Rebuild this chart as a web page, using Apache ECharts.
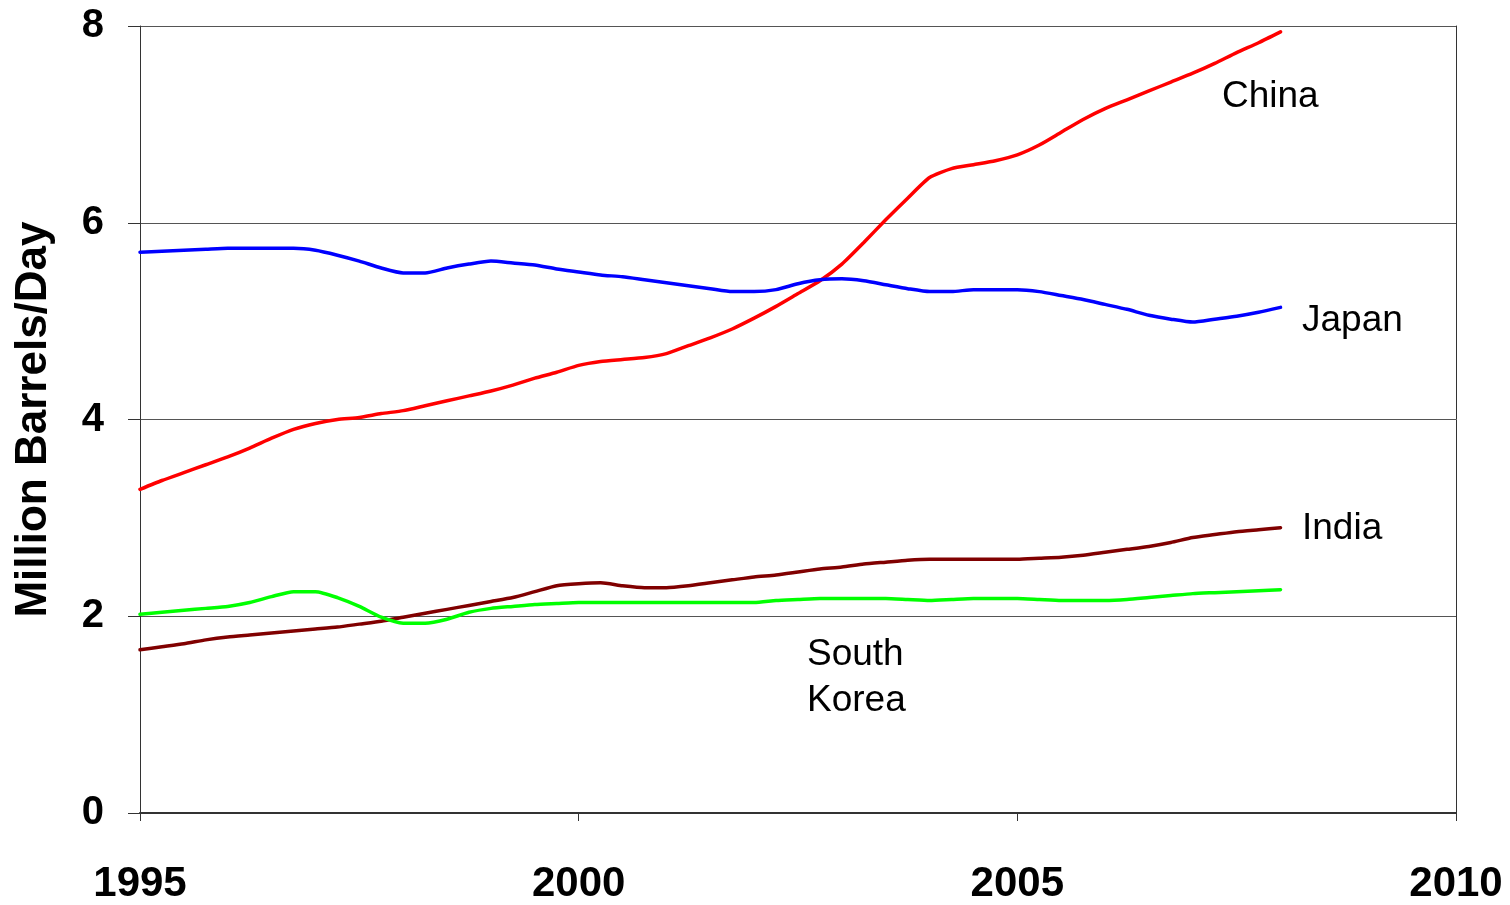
<!DOCTYPE html>
<html><head><meta charset="utf-8">
<script src="https://cdn.jsdelivr.net/npm/echarts@6/dist/echarts.min.js"></script>
<style>html,body{margin:0;padding:0;background:#fff}#c{width:1510px;height:905px}</style>
</head><body><div id="c"></div>
<script>
// quarterly time points (years)
const years = [1995,1995.25,1995.5,1995.75,1996,1996.25,1996.5,1996.75,1997,1997.25,1997.5,1997.75,
1998,1998.25,1998.5,1998.75,1999,1999.25,1999.5,1999.75,2000,2000.25,2000.5,2000.75,
2001,2001.25,2001.5,2001.75,2002,2002.25,2002.5,2002.75,2003,2003.25,2003.5,2003.75,
2004,2004.25,2004.5,2004.75,2005,2005.25,2005.5,2005.75,2006,2006.25,2006.5,2006.75,
2007,2007.25,2007.5,2007.75,2008];
const china = [3.29,3.38,3.46,3.54,3.62,3.71,3.81,3.90,3.96,4.00,4.02,4.06,4.09,4.14,4.19,4.24,4.29,4.35,4.42,4.48,
4.55,4.59,4.61,4.63,4.67,4.75,4.83,4.92,5.03,5.15,5.28,5.41,5.58,5.80,6.03,6.25,6.46,6.55,6.59,6.63,
6.69,6.79,6.92,7.05,7.16,7.25,7.34,7.43,7.52,7.62,7.73,7.83,7.94];
const japan = [5.70,5.71,5.72,5.73,5.74,5.74,5.74,5.74,5.72,5.67,5.61,5.54,5.49,5.49,5.54,5.58,5.61,5.59,5.57,5.53,
5.50,5.47,5.45,5.42,5.39,5.36,5.33,5.30,5.30,5.32,5.38,5.42,5.43,5.41,5.37,5.33,5.30,5.30,5.32,5.32,
5.32,5.30,5.26,5.22,5.17,5.12,5.06,5.02,4.99,5.02,5.05,5.09,5.14];
const india = [1.66,1.69,1.72,1.76,1.79,1.81,1.83,1.85,1.87,1.89,1.92,1.95,1.99,2.03,2.07,2.11,2.15,2.19,2.25,2.31,
2.33,2.34,2.31,2.29,2.29,2.31,2.34,2.37,2.40,2.42,2.45,2.48,2.50,2.53,2.55,2.57,2.58,2.58,2.58,2.58,
2.58,2.59,2.60,2.62,2.65,2.68,2.71,2.75,2.80,2.83,2.86,2.88,2.90];
const korea = [2.02,2.04,2.06,2.08,2.10,2.14,2.20,2.25,2.25,2.19,2.10,1.99,1.93,1.93,1.97,2.04,2.08,2.10,2.12,2.13,
2.14,2.14,2.14,2.14,2.14,2.14,2.14,2.14,2.14,2.16,2.17,2.18,2.18,2.18,2.18,2.17,2.16,2.17,2.18,2.18,
2.18,2.17,2.16,2.16,2.16,2.17,2.19,2.21,2.23,2.24,2.25,2.26,2.27];
const seriesNames = ['China','Japan','India','South\nKorea'];
const yAxisTitle = 'Million Barrels/Day';

const pair = arr => arr.map((v,i)=>[years[i], v]);
const chart = echarts.init(document.getElementById('c'));
const font = 'Liberation Sans, Arial, sans-serif';
function line(name, data, color){
  return {name, type:'line', data:pair(data), symbol:'none', smooth:0.2,
    lineStyle:{color, width:3.5, cap:'round'}, itemStyle:{color}};
}
chart.setOption({
  animation:false,
  grid:{left:140, right:54, top:26, bottom:91},
  xAxis:{type:'value', min:1995, max:2010, interval:5,
    axisLine:{show:true, onZero:false, lineStyle:{color:'#333', width:2}},
    axisTick:{show:true, length:8, inside:false, lineStyle:{color:'#333'}},
    splitLine:{show:false},
    axisLabel:{color:'#000', fontWeight:'bold', fontSize:42, fontFamily:font, margin:50, formatter:v=>String(v)}},
  yAxis:[{type:'value', min:0, max:8, interval:2,
    axisLine:{show:true, lineStyle:{color:'#333'}},
    axisTick:{show:true, length:12, lineStyle:{color:'#333'}},
    splitLine:{show:true, lineStyle:{color:'#555', width:1}},
    axisLabel:{color:'#000', fontWeight:'bold', fontSize:40, fontFamily:font, margin:36},
    name:yAxisTitle, nameLocation:'middle', nameGap:84,
    nameTextStyle:{color:'#000', fontWeight:'bold', fontSize:44, fontFamily:font}},
   {type:'value', min:0, max:8, interval:2, position:'right',
    axisLine:{show:true, lineStyle:{color:'#333'}}, axisTick:{show:false}, axisLabel:{show:false}, splitLine:{show:false}}],
  series:[line('China',china,'#ff0000'), line('Japan',japan,'#0000ff'),
          line('India',india,'#800000'), line('South Korea',korea,'#00ff00')],
  graphic:[
    {type:'text', left:1222, top:78, style:{text:seriesNames[0], font:'37px '+font, fill:'#000'}},
    {type:'text', left:1302, top:302, style:{text:seriesNames[1], font:'37px '+font, fill:'#000'}},
    {type:'text', left:1302, top:510, style:{text:seriesNames[2], font:'37px '+font, fill:'#000'}},
    {type:'text', left:807, top:632, style:{text:seriesNames[3], font:'37px '+font, fill:'#000', lineHeight:46}}
  ]
});
</script></body></html>
